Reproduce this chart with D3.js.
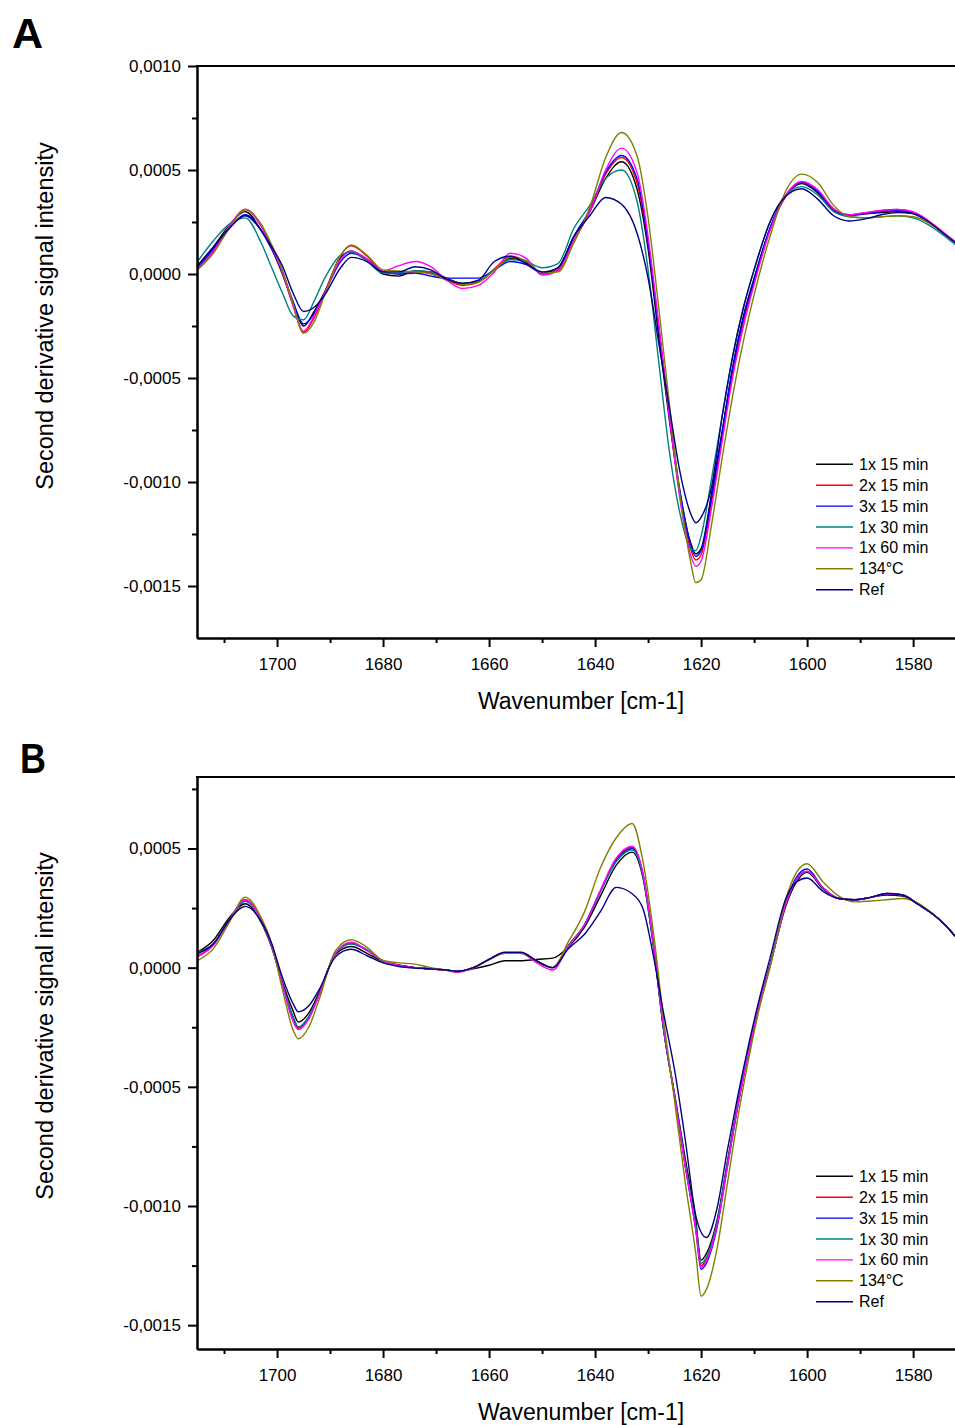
<!DOCTYPE html>
<meta charset="utf-8">
<style>
    body { margin: 0; background: #fff; }
    text { font-family: "Liberation Sans", Arial, sans-serif; fill: #000; }
    .axis text { font-size: 17px; }
    .axis path, .axis line { stroke: #000; stroke-width: 2; }
    .curve { fill: none; stroke-width: 1.4; }
    .xtitle { font-size: 23px; }
    .ytitle { font-size: 23.5px; }
    .legend text { font-size: 16px; }
    .panel-label { font-size: 43px; font-weight: bold; }
</style>
<body>
<svg id="chart" width="955" height="1425"></svg>
<script src="https://d3js.org/d3.v7.min.js"></script>
<script>
    var seriesNames = ["1x 15 min", "2x 15 min", "3x 15 min", "1x 30 min", "1x 60 min", "134°C", "Ref"];
    var seriesColors = ["#000000", "#ff0000", "#0000ff", "#008080", "#ff00ff", "#808000", "#000080"];

    var xTicks = [1700, 1680, 1660, 1640, 1620, 1600, 1580];
    var xMinor = [1710, 1690, 1670, 1650, 1630, 1610, 1590];

    // all intensities below are in units of 1e-4

    // panel A
    var wavenumbersA = [1715, 1712, 1709, 1706, 1703, 1701, 1699, 1697, 1695, 1693, 1691, 1688, 1686, 1683, 1680, 1677,
        1674, 1671, 1668, 1665, 1662, 1659, 1656, 1653, 1650, 1647, 1644, 1641, 1638, 1635, 1632, 1630, 1628,
        1626, 1624, 1622, 1621, 1620, 1618, 1616, 1614, 1612, 1610, 1607, 1604, 1601, 1598, 1595, 1592, 1589,
        1586, 1583, 1580, 1577, 1574, 1572];
    var yTicksA = [10, 5, 0, -5, -10, -15];
    var yMinorA = [7.5, 2.5, -2.5, -7.5, -12.5];

    var a1x15 = [0.4, 1.3, 2.35, 3.0, 2.1, 1.2, 0.0, -1.4, -2.5, -1.8, -0.85, 0.8, 1.1, 0.7, 0.0, -0.1,
        0.15, 0.1, -0.2, -0.45, -0.35, 0.2, 0.75, 0.55, 0.05, 0.3, 1.8, 3.0, 4.6, 5.4, 4.0, 1.2, -3.0,
        -7.0, -10.5, -12.9, -13.45, -13.2, -10.5, -7.5, -4.4, -2.0, -0.2, 2.2, 3.75, 4.35, 3.9, 3.1, 2.85, 2.9,
        2.95, 3.0, 2.9, 2.5, 1.9, 1.5];
    var a2x15 = [0.2, 1.1, 2.3, 3.1, 2.3, 1.3, 0.1, -1.5, -2.8, -2.1, -0.9, 0.9, 1.35, 0.85, 0.1, 0.0,
        0.1, 0.05, -0.3, -0.55, -0.4, 0.25, 0.85, 0.6, 0.0, 0.2, 1.6, 3.0, 4.8, 5.6, 4.3, 1.5, -2.5,
        -6.8, -10.6, -13.2, -13.75, -13.5, -10.9, -7.8, -4.7, -2.3, -0.4, 2.1, 3.75, 4.4, 4.0, 3.1, 2.85, 2.95,
        3.05, 3.1, 2.95, 2.5, 1.9, 1.5];
    var a3x15 = [0.3, 1.2, 2.2, 2.85, 2.1, 1.2, 0.1, -1.3, -2.4, -1.9, -0.9, 0.6, 1.0, 0.7, 0.1, 0.0,
        0.05, -0.1, -0.2, -0.2, -0.2, 0.2, 0.6, 0.45, 0.05, 0.3, 1.8, 3.1, 4.9, 5.7, 4.5, 1.5, -2.6,
        -6.8, -10.4, -13.0, -13.57, -13.3, -10.7, -7.6, -4.5, -2.1, -0.3, 2.2, 3.8, 4.4, 3.95, 3.05, 2.8, 2.9,
        3.0, 3.05, 2.9, 2.5, 1.9, 1.5];
    var a1x30 = [0.6, 1.6, 2.4, 2.7, 1.5, 0.3, -0.9, -2.0, -2.2, -1.3, -0.2, 0.9, 1.05, 0.6, 0.05, 0.05,
        0.15, 0.1, -0.25, -0.45, -0.35, 0.2, 0.7, 0.6, 0.3, 0.5, 2.2, 3.3, 4.6, 5.0, 3.4, 0.2, -4.2,
        -8.5, -11.5, -13.2, -13.3, -12.6, -9.8, -6.8, -3.9, -1.6, 0.2, 2.5, 3.8, 4.2, 3.8, 3.0, 2.75, 2.7,
        2.75, 2.8, 2.7, 2.35, 1.8, 1.4];
    var a1x60 = [0.25, 1.1, 2.3, 3.1, 2.3, 1.3, 0.1, -1.5, -2.75, -2.0, -0.9, 0.7, 1.1, 0.7, 0.15, 0.4,
        0.6, 0.35, -0.3, -0.7, -0.55, 0.1, 1.0, 0.75, -0.05, 0.15, 1.6, 3.0, 5.0, 6.05, 4.8, 1.8, -2.4,
        -6.8, -10.8, -13.5, -14.05, -13.8, -11.2, -8.0, -4.9, -2.5, -0.5, 2.1, 3.8, 4.45, 4.05, 3.15, 2.85, 2.95,
        3.05, 3.1, 3.0, 2.55, 1.95, 1.55];
    var a134 = [0.2, 1.0, 2.2, 3.1, 2.4, 1.4, 0.2, -1.4, -2.85, -2.3, -1.0, 0.9, 1.4, 0.9, 0.2, 0.15,
        0.1, 0.0, -0.25, -0.5, -0.4, 0.2, 0.8, 0.65, 0.05, 0.1, 1.5, 3.2, 5.6, 6.8, 5.6, 2.7, -1.6,
        -6.2, -10.6, -13.8, -14.84, -14.7, -12.0, -8.8, -5.8, -3.2, -1.0, 1.8, 4.0, 4.8, 4.4, 3.3, 2.75, 2.7,
        2.75, 2.8, 2.75, 2.45, 1.9, 1.5];
    var aRef = [0.4, 1.3, 2.2, 2.8, 2.1, 1.3, 0.4, -0.9, -1.8, -1.6, -1.0, 0.3, 0.8, 0.6, 0.1, 0.1,
        0.35, 0.2, -0.25, -0.45, -0.3, 0.6, 0.85, 0.5, 0.1, 0.3, 1.8, 2.8, 3.68, 3.35, 1.9, -0.2, -3.3,
        -6.4, -9.5, -11.5, -11.96, -11.7, -10.2, -6.8, -3.9, -1.6, 0.2, 2.5, 3.75, 4.1, 3.6, 2.8, 2.55, 2.65,
        2.85, 2.95, 2.9, 2.5, 1.9, 1.5];

    // panel B
    var wavenumbersB = [1715, 1712, 1709, 1706, 1703, 1701, 1699, 1697, 1696, 1694, 1692, 1689, 1686, 1683, 1680,
        1677, 1674, 1671, 1668, 1666, 1663, 1660, 1657, 1654, 1651, 1648, 1645, 1642, 1639, 1636, 1633, 1631,
        1629, 1627, 1625, 1623, 1621, 1620, 1619, 1617, 1615, 1613, 1611, 1609, 1607, 1604, 1602, 1600, 1597,
        1594, 1591, 1588, 1585, 1582, 1579, 1576, 1574, 1572];
    var yTicksB = [5, 0, -5, -10, -15];
    var yMinorB = [7.5, 2.5, -2.5, -7.5, -12.5];

    var b1x15 = [0.65, 1.15, 2.1, 2.68, 1.9, 0.85, -0.6, -1.8, -2.28, -1.9, -1.0, 0.55, 0.89, 0.6, 0.25,
        0.1, 0.0, -0.05, -0.1, -0.15, -0.05, 0.1, 0.29, 0.29, 0.35, 0.4, 0.88, 1.7, 3.0, 4.3, 4.85, 3.8,
        0.9, -2.7, -5.3, -8.0, -10.6, -12.27, -12.0, -10.6, -8.1, -5.6, -3.4, -1.4, 0.1, 2.6, 3.6, 4.0, 3.3,
        2.9, 2.85, 2.95, 3.05, 3.0, 2.65, 2.2, 1.8, 1.3];
    var b2x15 = [0.5, 0.95, 2.0, 2.85, 2.0, 0.9, -0.7, -2.1, -2.55, -2.1, -1.1, 0.6, 1.05, 0.72, 0.28,
        0.1, 0.0, -0.05, -0.1, -0.17, 0.0, 0.35, 0.63, 0.63, 0.28, 0.0, 0.93, 1.8, 3.2, 4.55, 5.05, 3.95,
        1.0, -2.7, -5.4, -8.3, -10.9, -12.5, -12.2, -10.8, -8.2, -5.7, -3.5, -1.5, 0.1, 2.7, 3.7, 4.04, 3.35,
        2.9, 2.85, 2.95, 3.1, 3.05, 2.65, 2.2, 1.8, 1.3];
    var b3x15 = [0.6, 1.0, 2.0, 2.8, 1.95, 0.9, -0.7, -2.05, -2.5, -2.05, -1.1, 0.6, 1.0, 0.72, 0.28,
        0.1, 0.0, -0.05, -0.1, -0.17, 0.0, 0.35, 0.63, 0.63, 0.28, 0.0, 0.93, 1.8, 3.2, 4.5, 5.0, 3.95,
        1.0, -2.7, -5.4, -8.3, -11.0, -12.66, -12.4, -10.9, -8.3, -5.7, -3.5, -1.5, 0.1, 2.75, 3.8, 4.14, 3.35,
        2.9, 2.85, 2.95, 3.11, 3.05, 2.65, 2.2, 1.8, 1.3];
    var b1x30 = [0.65, 1.0, 2.0, 2.8, 1.95, 0.9, -0.7, -2.05, -2.49, -2.05, -1.1, 0.6, 1.0, 0.75, 0.28,
        0.1, 0.0, -0.05, -0.1, -0.17, 0.0, 0.35, 0.63, 0.63, 0.28, 0.0, 0.93, 1.8, 3.2, 4.45, 4.95, 3.9,
        0.95, -2.7, -5.4, -8.2, -10.8, -12.4, -12.15, -10.7, -8.2, -5.65, -3.45, -1.45, 0.1, 2.7, 3.7, 4.04, 3.35,
        2.9, 2.85, 2.95, 3.1, 3.05, 2.65, 2.2, 1.8, 1.3];
    var b1x60 = [0.45, 0.95, 2.0, 2.85, 2.0, 0.9, -0.7, -2.25, -2.6, -2.15, -1.1, 0.6, 1.07, 0.72, 0.28,
        0.1, 0.0, -0.05, -0.12, -0.2, -0.02, 0.33, 0.6, 0.6, 0.2, -0.1, 0.9, 1.8, 3.25, 4.6, 5.1, 4.0,
        1.05, -2.6, -5.4, -8.3, -11.0, -12.57, -12.3, -10.85, -8.3, -5.7, -3.5, -1.5, 0.05, 2.7, 3.7, 4.04, 3.35,
        2.9, 2.85, 2.95, 3.1, 3.05, 2.65, 2.2, 1.8, 1.3];
    var b134 = [0.3, 0.8, 1.9, 2.96, 2.1, 1.0, -0.9, -2.6, -2.98, -2.49, -1.3, 0.7, 1.17, 0.85, 0.3,
        0.2, 0.15, 0.0, -0.1, -0.17, 0.0, 0.35, 0.6, 0.6, 0.28, 0.0, 1.1, 2.34, 4.18, 5.45, 6.05, 4.5,
        1.5, -2.3, -5.6, -9.0, -12.0, -13.78, -13.5, -11.8, -9.0, -6.2, -3.8, -1.7, 0.0, 2.9, 4.0, 4.36, 3.6,
        3.0, 2.76, 2.8, 2.85, 2.9, 2.7, 2.2, 1.8, 1.3];
    var bRef = [0.6, 1.0, 2.0, 2.57, 1.95, 1.0, -0.4, -1.5, -1.85, -1.6, -0.9, 0.45, 0.77, 0.5, 0.2,
        0.05, -0.02, -0.05, -0.1, -0.15, 0.0, 0.35, 0.65, 0.65, 0.28, 0.0, 0.8, 1.4, 2.35, 3.37, 3.1, 2.5,
        0.5, -2.0, -4.3, -7.2, -10.4, -11.1, -11.32, -10.1, -7.6, -5.3, -3.2, -1.3, 0.4, 2.9, 3.6, 3.76, 3.2,
        2.9, 2.85, 2.95, 3.11, 3.05, 2.65, 2.2, 1.8, 1.3];

    var svg = d3.select("#chart");

    var fmt = function(d) { return (d / 1e4).toFixed(4).replace(".", ","); };

    function drawPanel(p) {
        var x = d3.scaleLinear().domain([1715.1, 1572.1]).range([197, 955]);
        var y = d3.scaleLinear().domain(p.yDomain).range([p.bottom, p.top]);

        var g = svg.append("g");

        var line = d3.line()
            .x(function(d) { return x(d[0]); })
            .y(function(d) { return y(d[1]); })
            .curve(d3.curveMonotoneX);

        p.series.forEach(function(vals, i) {
            g.append("path")
                .attr("class", "curve")
                .attr("stroke", seriesColors[i])
                .attr("d", line(p.wavenumbers.map(function(w, j) { return [w, vals[j]]; })));
        });

        // axes, major and minor ticks
        g.append("g").attr("class", "axis")
            .attr("transform", "translate(197,0)")
            .call(d3.axisLeft(y).tickValues(p.yTicks).tickFormat(fmt).tickSize(9).tickSizeOuter(0).tickPadding(7));
        g.append("g").attr("class", "axis")
            .attr("transform", "translate(197,0)")
            .call(d3.axisLeft(y).tickValues(p.yMinor).tickFormat("").tickSize(5).tickSizeOuter(0));

        g.append("g").attr("class", "axis")
            .attr("transform", "translate(0," + p.bottom + ")")
            .call(d3.axisBottom(x).tickValues(xTicks).tickFormat(d3.format("d")).tickSize(9).tickSizeOuter(0).tickPadding(11));
        g.append("g").attr("class", "axis")
            .attr("transform", "translate(0," + p.bottom + ")")
            .call(d3.axisBottom(x).tickValues(xMinor).tickFormat("").tickSize(5).tickSizeOuter(0));

        // top frame line
        g.append("line")
            .attr("x1", 196).attr("x2", 955)
            .attr("y1", p.top).attr("y2", p.top)
            .attr("stroke", "#000").attr("stroke-width", 2);

        g.append("text").attr("class", "xtitle")
            .attr("x", 581).attr("y", p.bottom + 71)
            .attr("text-anchor", "middle")
            .text("Wavenumber [cm-1]");
        g.append("text").attr("class", "ytitle")
            .attr("transform", "translate(53," + p.yTitle + ") rotate(-90)")
            .attr("text-anchor", "middle")
            .text("Second derivative signal intensity");

        var lab = g.append("text").attr("class", "panel-label")
            .attr("x", p.labelX).attr("y", p.labelY)
            .text(p.label);
        if (p.labelWidth) lab.attr("textLength", p.labelWidth).attr("lengthAdjust", "spacingAndGlyphs");

        // legend
        var leg = g.append("g").attr("class", "legend");
        seriesNames.forEach(function(name, i) {
            var ly = p.legendY + i * 20.9;
            leg.append("line")
                .attr("x1", 816).attr("x2", 853)
                .attr("y1", ly).attr("y2", ly)
                .attr("stroke", seriesColors[i]).attr("stroke-width", 1.4);
            leg.append("text")
                .attr("x", 859).attr("y", ly + 5.5)
                .text(name);
        });
    }

    drawPanel({
        label: "A", labelX: 12, labelY: 48,
        top: 66, bottom: 638, yDomain: [-17.5, 10],
        yTicks: yTicksA, yMinor: yMinorA,
        yTitle: 316, legendY: 464.3,
        wavenumbers: wavenumbersA,
        series: [a1x15, a2x15, a3x15, a1x30, a1x60, a134, aRef]
    });

    drawPanel({
        label: "B", labelX: 20, labelY: 773, labelWidth: 26,
        top: 777, bottom: 1349, yDomain: [-16, 8],
        yTicks: yTicksB, yMinor: yMinorB,
        yTitle: 1026, legendY: 1176.3,
        wavenumbers: wavenumbersB,
        series: [b1x15, b2x15, b3x15, b1x30, b1x60, b134, bRef]
    });
</script>
</body>
